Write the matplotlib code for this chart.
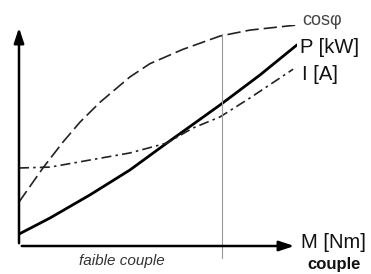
import matplotlib.pyplot as plt

# normalised torque axis and curve values
m_p = [0.0, 0.112, 0.255, 0.399, 0.532, 0.723, 0.867, 1.0]
p_kw = [0.054, 0.127, 0.231, 0.344, 0.466, 0.638, 0.774, 0.910]

m_cos = [0.0, 0.086, 0.158, 0.219, 0.291, 0.399, 0.471, 0.590, 0.723, 0.831, 1.0]
cos_phi = [0.199, 0.353, 0.470, 0.560, 0.650, 0.765, 0.825, 0.890, 0.950, 0.977, 1.0]

m_i = [0.0, 0.112, 0.255, 0.399, 0.532, 0.626, 0.723, 0.831, 0.986]
i_a = [0.353, 0.357, 0.389, 0.421, 0.466, 0.534, 0.584, 0.670, 0.80]

low_torque_limit = 0.73

fig = plt.figure(figsize=(3.71, 2.74), dpi=100)
ax = fig.add_axes([19 / 371, 28 / 274, 278 / 371, 221 / 274])
ax.set_xlim(0, 1)
ax.set_ylim(0, 1)
ax.axis('off')

ax.plot(m_p, p_kw, color='black', lw=2.0, solid_capstyle='round', solid_joinstyle='round')
ax.plot(m_cos, cos_phi, color='#222222', lw=1.2, ls=(0, (8, 3)))
ax.plot(m_i, i_a, color='#222222', lw=1.2, ls=(0, (6, 2.5, 1.5, 2.5)))

# low torque boundary
ax.plot([low_torque_limit, low_torque_limit], [-0.055, 0.96], color='#999999', lw=0.8, clip_on=False)

# axes with arrows
ax.annotate('', xy=(1.0, 0), xytext=(0, 0),
            arrowprops=dict(arrowstyle='-|>,head_length=0.9,head_width=0.3', color='black', lw=1.8),
            annotation_clip=False)
ax.annotate('', xy=(0, 1.0), xytext=(0, 0),
            arrowprops=dict(arrowstyle='-|>,head_length=0.9,head_width=0.3', color='black', lw=1.8),
            annotation_clip=False)

fam = ['Liberation Sans', 'DejaVu Sans']
fs = 14.5
ax.text(1.018, 1.02, 'cosφ', fontsize=13, color='#444444', va='center', ha='left', clip_on=False, family=fam)
ax.text(1.011, 0.896, 'P [kW]', fontsize=fs, color='#111111', va='center', ha='left', clip_on=False, family=fam)
ax.text(1.018, 0.774, 'I [A]', fontsize=fs, color='#111111', va='center', ha='left', clip_on=False, family=fam)
ax.text(1.015, 0.016, 'M [Nm]', fontsize=fs, color='#111111', va='center', ha='left', clip_on=False, family=fam)
ax.text(1.036, -0.082, 'couple', fontsize=12, fontweight='bold', color='#111111', va='center', ha='left',
        clip_on=False, family=fam)
ax.text(0.37, -0.07, 'faible couple', fontsize=11, style='italic', color='#333333', va='center',
        ha='center', clip_on=False, family=fam)

fig.savefig('out.png', dpi=100)
